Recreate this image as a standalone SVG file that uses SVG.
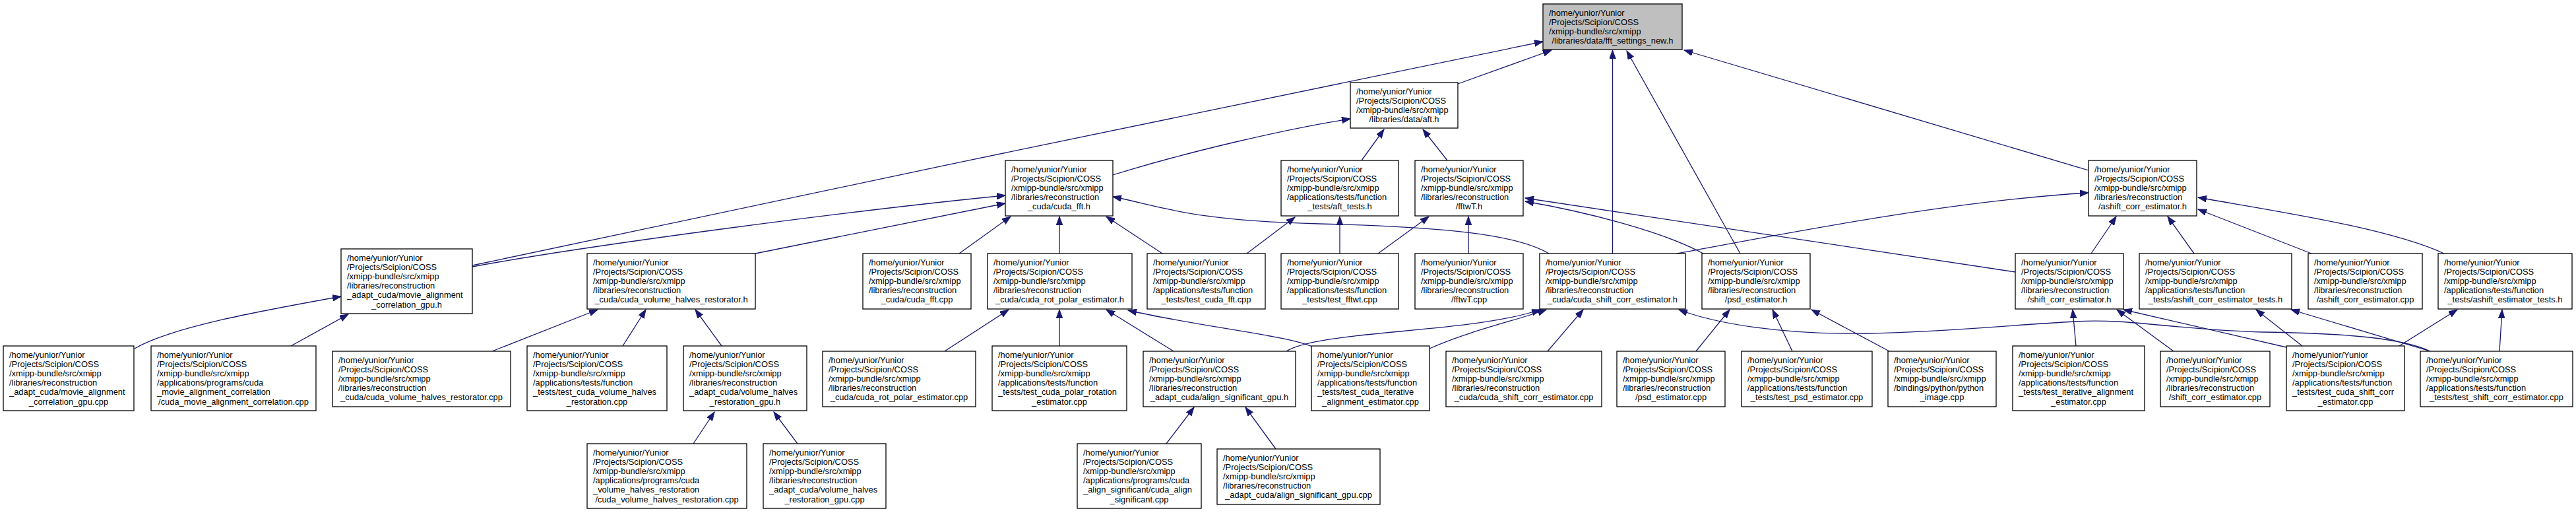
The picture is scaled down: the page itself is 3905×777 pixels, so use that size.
<svg xmlns="http://www.w3.org/2000/svg" width="3905" height="777" viewBox="0 0 3905 777">
<style>
.bg{fill:#fff}
.n rect{fill:#fff;stroke:#000;stroke-width:1.3}
.n.root rect{fill:#bfbfbf}
.t{font-family:"Liberation Sans",Arial,Helvetica,sans-serif;font-size:12.9px;fill:#000}
.c{text-anchor:middle}
.e path{fill:none;stroke:#191970;stroke-width:1.3;marker-end:url(#a)}
</style>
<defs>
<marker id="a" markerUnits="userSpaceOnUse" markerWidth="14" markerHeight="10" refX="13" refY="4.8" orient="auto">
<path d="M0,0 L13,4.8 L0,9.6 z" fill="#191970" stroke="#191970" stroke-width="1"/>
</marker>
</defs>
<rect class="bg" x="0" y="0" width="3905" height="777"/>
<g id="edges" class="e">
<path d="M716,402 C1200,300 1900,150 2339,63"/>
<path d="M716,404 C900,370 1300,318 1524,296"/>
<path d="M1145,384 L1524,308"/>
<path d="M1454,384 L1532,328"/>
<path d="M1606,384 L1606,328"/>
<path d="M1762,384 L1677,328"/>
<path d="M2348,384 C2300,356 2200,344 2000,339 S1760,312 1687,298"/>
<path d="M2210,127 L2352,76"/>
<path d="M1687,265 C1800,230 1950,195 2047,180"/>
<path d="M2064,243 L2098,196"/>
<path d="M2194,243 L2157,196"/>
<path d="M2444.5,384 L2444.5,76"/>
<path d="M2638,384 L2466,77"/>
<path d="M3166,258 L2553,76"/>
<path d="M2031,384 L2031,328"/>
<path d="M1890,384 L1963,329"/>
<path d="M2089,384 L2166,328"/>
<path d="M2226,384 L2226,328"/>
<path d="M3055,412 L2312,300"/>
<path d="M2582,384 C2520,350 2400,320 2312,305"/>
<path d="M2542,384 C2700,355 2950,305 3166,292"/>
<path d="M3170,384 L3208,328"/>
<path d="M3326,384 L3286,328"/>
<path d="M3504,384 L3332,317"/>
<path d="M3705,384 C3620,345 3450,320 3332,299"/>
<path d="M204,528 C260,495 400,470 517,449"/>
<path d="M441,524 L528,476"/>
<path d="M746,532 L906,469"/>
<path d="M944,524 L979,469"/>
<path d="M1094,524 L1054,469"/>
<path d="M1051,672 L1083,624"/>
<path d="M1209,672 L1173,624"/>
<path d="M1432,532 L1529,469"/>
<path d="M1606,524 L1606,469"/>
<path d="M1779,532 L1677,469"/>
<path d="M1989,525 C1950,508 1820,495 1710,470"/>
<path d="M1950,532 C2000,500 2230,505 2335,469"/>
<path d="M2167,528 C2230,500 2300,485 2344,469"/>
<path d="M2346,532 L2400,469"/>
<path d="M3684,532 C3640,512 3560,505 3430,503 C3300,500 3230,482 3146,487 C3050,492 2950,503 2829,505 C2700,507 2600,490 2545,469"/>
<path d="M2571,532 L2622,469"/>
<path d="M2717,532 L2687,469"/>
<path d="M2864,532 L2746,469"/>
<path d="M3147,524 L3142,469"/>
<path d="M3295,532 L3209,469"/>
<path d="M3466,526 L3219,469"/>
<path d="M3490,524 L3420,469"/>
<path d="M3684,532 L3473,469"/>
<path d="M3637,524 L3725,469"/>
<path d="M3789,532 L3793,469"/>
<path d="M1768,672 L1810,617"/>
<path d="M1934,680 L1888,617"/>
</g>
<g id="n0" class="n root"><rect x="2339" y="6" width="211" height="69"/><text class="t"><tspan x="2348" y="23.6">/home/yunior/Yunior</tspan><tspan x="2348" y="37.8">/Projects/Scipion/COSS</tspan><tspan x="2348" y="52">/xmipp-bundle/src/xmipp</tspan></text><text class="t c" x="2444.5" y="66.2">/libraries/data/fft_settings_new.h</text></g>
<g id="n1" class="n"><rect x="2047" y="125" width="163" height="69"/><text class="t"><tspan x="2056" y="142.6">/home/yunior/Yunior</tspan><tspan x="2056" y="156.8">/Projects/Scipion/COSS</tspan><tspan x="2056" y="171">/xmipp-bundle/src/xmipp</tspan></text><text class="t c" x="2128.5" y="185.2">/libraries/data/aft.h</text></g>
<g id="n2" class="n"><rect x="517" y="377" width="199" height="98"/><text class="t"><tspan x="526" y="394.6">/home/yunior/Yunior</tspan><tspan x="526" y="408.8">/Projects/Scipion/COSS</tspan><tspan x="526" y="423">/xmipp-bundle/src/xmipp</tspan><tspan x="526" y="437.2">/libraries/reconstruction</tspan><tspan x="526" y="451.4">_adapt_cuda/movie_alignment</tspan></text><text class="t c" x="616.5" y="465.6">_correlation_gpu.h</text></g>
<g id="n3" class="n"><rect x="1524" y="243" width="163" height="84"/><text class="t"><tspan x="1533" y="260.6">/home/yunior/Yunior</tspan><tspan x="1533" y="274.8">/Projects/Scipion/COSS</tspan><tspan x="1533" y="289">/xmipp-bundle/src/xmipp</tspan><tspan x="1533" y="303.2">/libraries/reconstruction</tspan></text><text class="t c" x="1605.5" y="317.4">_cuda/cuda_fft.h</text></g>
<g id="n4" class="n"><rect x="1942" y="243" width="178" height="84"/><text class="t"><tspan x="1951" y="260.6">/home/yunior/Yunior</tspan><tspan x="1951" y="274.8">/Projects/Scipion/COSS</tspan><tspan x="1951" y="289">/xmipp-bundle/src/xmipp</tspan><tspan x="1951" y="303.2">/applications/tests/function</tspan></text><text class="t c" x="2031" y="317.4">_tests/aft_tests.h</text></g>
<g id="n5" class="n"><rect x="2145" y="243" width="164" height="84"/><text class="t"><tspan x="2154" y="260.6">/home/yunior/Yunior</tspan><tspan x="2154" y="274.8">/Projects/Scipion/COSS</tspan><tspan x="2154" y="289">/xmipp-bundle/src/xmipp</tspan><tspan x="2154" y="303.2">/libraries/reconstruction</tspan></text><text class="t c" x="2227" y="317.4">/fftwT.h</text></g>
<g id="n6" class="n"><rect x="3166" y="243" width="164" height="84"/><text class="t"><tspan x="3175" y="260.6">/home/yunior/Yunior</tspan><tspan x="3175" y="274.8">/Projects/Scipion/COSS</tspan><tspan x="3175" y="289">/xmipp-bundle/src/xmipp</tspan><tspan x="3175" y="303.2">/libraries/reconstruction</tspan></text><text class="t c" x="3248" y="317.4">/ashift_corr_estimator.h</text></g>
<g id="n7" class="n"><rect x="890" y="384" width="255" height="84"/><text class="t"><tspan x="899" y="401.6">/home/yunior/Yunior</tspan><tspan x="899" y="415.8">/Projects/Scipion/COSS</tspan><tspan x="899" y="430">/xmipp-bundle/src/xmipp</tspan><tspan x="899" y="444.2">/libraries/reconstruction</tspan></text><text class="t c" x="1017.5" y="458.4">_cuda/cuda_volume_halves_restorator.h</text></g>
<g id="n8" class="n"><rect x="1308" y="384" width="164" height="84"/><text class="t"><tspan x="1317" y="401.6">/home/yunior/Yunior</tspan><tspan x="1317" y="415.8">/Projects/Scipion/COSS</tspan><tspan x="1317" y="430">/xmipp-bundle/src/xmipp</tspan><tspan x="1317" y="444.2">/libraries/reconstruction</tspan></text><text class="t c" x="1390" y="458.4">_cuda/cuda_fft.cpp</text></g>
<g id="n9" class="n"><rect x="1497" y="384" width="219" height="84"/><text class="t"><tspan x="1506" y="401.6">/home/yunior/Yunior</tspan><tspan x="1506" y="415.8">/Projects/Scipion/COSS</tspan><tspan x="1506" y="430">/xmipp-bundle/src/xmipp</tspan><tspan x="1506" y="444.2">/libraries/reconstruction</tspan></text><text class="t c" x="1606.5" y="458.4">_cuda/cuda_rot_polar_estimator.h</text></g>
<g id="n10" class="n"><rect x="1739" y="384" width="179" height="84"/><text class="t"><tspan x="1748" y="401.6">/home/yunior/Yunior</tspan><tspan x="1748" y="415.8">/Projects/Scipion/COSS</tspan><tspan x="1748" y="430">/xmipp-bundle/src/xmipp</tspan><tspan x="1748" y="444.2">/applications/tests/function</tspan></text><text class="t c" x="1828.5" y="458.4">_tests/test_cuda_fft.cpp</text></g>
<g id="n11" class="n"><rect x="1942" y="384" width="178" height="84"/><text class="t"><tspan x="1951" y="401.6">/home/yunior/Yunior</tspan><tspan x="1951" y="415.8">/Projects/Scipion/COSS</tspan><tspan x="1951" y="430">/xmipp-bundle/src/xmipp</tspan><tspan x="1951" y="444.2">/applications/tests/function</tspan></text><text class="t c" x="2031" y="458.4">_tests/test_fftwt.cpp</text></g>
<g id="n12" class="n"><rect x="2145" y="384" width="164" height="84"/><text class="t"><tspan x="2154" y="401.6">/home/yunior/Yunior</tspan><tspan x="2154" y="415.8">/Projects/Scipion/COSS</tspan><tspan x="2154" y="430">/xmipp-bundle/src/xmipp</tspan><tspan x="2154" y="444.2">/libraries/reconstruction</tspan></text><text class="t c" x="2227" y="458.4">/fftwT.cpp</text></g>
<g id="n13" class="n"><rect x="2334" y="384" width="221" height="84"/><text class="t"><tspan x="2343" y="401.6">/home/yunior/Yunior</tspan><tspan x="2343" y="415.8">/Projects/Scipion/COSS</tspan><tspan x="2343" y="430">/xmipp-bundle/src/xmipp</tspan><tspan x="2343" y="444.2">/libraries/reconstruction</tspan></text><text class="t c" x="2444.5" y="458.4">_cuda/cuda_shift_corr_estimator.h</text></g>
<g id="n14" class="n"><rect x="2580" y="384" width="164" height="84"/><text class="t"><tspan x="2589" y="401.6">/home/yunior/Yunior</tspan><tspan x="2589" y="415.8">/Projects/Scipion/COSS</tspan><tspan x="2589" y="430">/xmipp-bundle/src/xmipp</tspan><tspan x="2589" y="444.2">/libraries/reconstruction</tspan></text><text class="t c" x="2662" y="458.4">/psd_estimator.h</text></g>
<g id="n15" class="n"><rect x="3055" y="384" width="164" height="84"/><text class="t"><tspan x="3064" y="401.6">/home/yunior/Yunior</tspan><tspan x="3064" y="415.8">/Projects/Scipion/COSS</tspan><tspan x="3064" y="430">/xmipp-bundle/src/xmipp</tspan><tspan x="3064" y="444.2">/libraries/reconstruction</tspan></text><text class="t c" x="3137" y="458.4">/shift_corr_estimator.h</text></g>
<g id="n16" class="n"><rect x="3243" y="384" width="231" height="84"/><text class="t"><tspan x="3252" y="401.6">/home/yunior/Yunior</tspan><tspan x="3252" y="415.8">/Projects/Scipion/COSS</tspan><tspan x="3252" y="430">/xmipp-bundle/src/xmipp</tspan><tspan x="3252" y="444.2">/applications/tests/function</tspan></text><text class="t c" x="3358.5" y="458.4">_tests/ashift_corr_estimator_tests.h</text></g>
<g id="n17" class="n"><rect x="3499" y="384" width="173" height="84"/><text class="t"><tspan x="3508" y="401.6">/home/yunior/Yunior</tspan><tspan x="3508" y="415.8">/Projects/Scipion/COSS</tspan><tspan x="3508" y="430">/xmipp-bundle/src/xmipp</tspan><tspan x="3508" y="444.2">/libraries/reconstruction</tspan></text><text class="t c" x="3585.5" y="458.4">/ashift_corr_estimator.cpp</text></g>
<g id="n18" class="n"><rect x="3696" y="384" width="203" height="84"/><text class="t"><tspan x="3705" y="401.6">/home/yunior/Yunior</tspan><tspan x="3705" y="415.8">/Projects/Scipion/COSS</tspan><tspan x="3705" y="430">/xmipp-bundle/src/xmipp</tspan><tspan x="3705" y="444.2">/applications/tests/function</tspan></text><text class="t c" x="3797.5" y="458.4">_tests/ashift_estimator_tests.h</text></g>
<g id="n19" class="n"><rect x="5" y="524" width="198" height="98"/><text class="t"><tspan x="14" y="541.6">/home/yunior/Yunior</tspan><tspan x="14" y="555.8">/Projects/Scipion/COSS</tspan><tspan x="14" y="570">/xmipp-bundle/src/xmipp</tspan><tspan x="14" y="584.2">/libraries/reconstruction</tspan><tspan x="14" y="598.4">_adapt_cuda/movie_alignment</tspan></text><text class="t c" x="104" y="612.6">_correlation_gpu.cpp</text></g>
<g id="n20" class="n"><rect x="229" y="524" width="250" height="98"/><text class="t"><tspan x="238" y="541.6">/home/yunior/Yunior</tspan><tspan x="238" y="555.8">/Projects/Scipion/COSS</tspan><tspan x="238" y="570">/xmipp-bundle/src/xmipp</tspan><tspan x="238" y="584.2">/applications/programs/cuda</tspan><tspan x="238" y="598.4">_movie_alignment_correlation</tspan></text><text class="t c" x="354" y="612.6">/cuda_movie_alignment_correlation.cpp</text></g>
<g id="n21" class="n"><rect x="504" y="532" width="270" height="84"/><text class="t"><tspan x="513" y="549.6">/home/yunior/Yunior</tspan><tspan x="513" y="563.8">/Projects/Scipion/COSS</tspan><tspan x="513" y="578">/xmipp-bundle/src/xmipp</tspan><tspan x="513" y="592.2">/libraries/reconstruction</tspan></text><text class="t c" x="639" y="606.4">_cuda/cuda_volume_halves_restorator.cpp</text></g>
<g id="n22" class="n"><rect x="799" y="524" width="212" height="98"/><text class="t"><tspan x="808" y="541.6">/home/yunior/Yunior</tspan><tspan x="808" y="555.8">/Projects/Scipion/COSS</tspan><tspan x="808" y="570">/xmipp-bundle/src/xmipp</tspan><tspan x="808" y="584.2">/applications/tests/function</tspan><tspan x="808" y="598.4">_tests/test_cuda_volume_halves</tspan></text><text class="t c" x="905" y="612.6">_restoration.cpp</text></g>
<g id="n23" class="n"><rect x="1036" y="524" width="187" height="98"/><text class="t"><tspan x="1045" y="541.6">/home/yunior/Yunior</tspan><tspan x="1045" y="555.8">/Projects/Scipion/COSS</tspan><tspan x="1045" y="570">/xmipp-bundle/src/xmipp</tspan><tspan x="1045" y="584.2">/libraries/reconstruction</tspan><tspan x="1045" y="598.4">_adapt_cuda/volume_halves</tspan></text><text class="t c" x="1129.5" y="612.6">_restoration_gpu.h</text></g>
<g id="n24" class="n"><rect x="1247" y="532" width="232" height="84"/><text class="t"><tspan x="1256" y="549.6">/home/yunior/Yunior</tspan><tspan x="1256" y="563.8">/Projects/Scipion/COSS</tspan><tspan x="1256" y="578">/xmipp-bundle/src/xmipp</tspan><tspan x="1256" y="592.2">/libraries/reconstruction</tspan></text><text class="t c" x="1363" y="606.4">_cuda/cuda_rot_polar_estimator.cpp</text></g>
<g id="n25" class="n"><rect x="1504" y="524" width="204" height="98"/><text class="t"><tspan x="1513" y="541.6">/home/yunior/Yunior</tspan><tspan x="1513" y="555.8">/Projects/Scipion/COSS</tspan><tspan x="1513" y="570">/xmipp-bundle/src/xmipp</tspan><tspan x="1513" y="584.2">/applications/tests/function</tspan><tspan x="1513" y="598.4">_tests/test_cuda_polar_rotation</tspan></text><text class="t c" x="1606" y="612.6">_estimator.cpp</text></g>
<g id="n26" class="n"><rect x="1733" y="532" width="231" height="84"/><text class="t"><tspan x="1742" y="549.6">/home/yunior/Yunior</tspan><tspan x="1742" y="563.8">/Projects/Scipion/COSS</tspan><tspan x="1742" y="578">/xmipp-bundle/src/xmipp</tspan><tspan x="1742" y="592.2">/libraries/reconstruction</tspan></text><text class="t c" x="1848.5" y="606.4">_adapt_cuda/align_significant_gpu.h</text></g>
<g id="n27" class="n"><rect x="1988" y="524" width="179" height="98"/><text class="t"><tspan x="1997" y="541.6">/home/yunior/Yunior</tspan><tspan x="1997" y="555.8">/Projects/Scipion/COSS</tspan><tspan x="1997" y="570">/xmipp-bundle/src/xmipp</tspan><tspan x="1997" y="584.2">/applications/tests/function</tspan><tspan x="1997" y="598.4">_tests/test_cuda_iterative</tspan></text><text class="t c" x="2077.5" y="612.6">_alignment_estimator.cpp</text></g>
<g id="n28" class="n"><rect x="2192" y="532" width="236" height="84"/><text class="t"><tspan x="2201" y="549.6">/home/yunior/Yunior</tspan><tspan x="2201" y="563.8">/Projects/Scipion/COSS</tspan><tspan x="2201" y="578">/xmipp-bundle/src/xmipp</tspan><tspan x="2201" y="592.2">/libraries/reconstruction</tspan></text><text class="t c" x="2310" y="606.4">_cuda/cuda_shift_corr_estimator.cpp</text></g>
<g id="n29" class="n"><rect x="2451" y="532" width="164" height="84"/><text class="t"><tspan x="2460" y="549.6">/home/yunior/Yunior</tspan><tspan x="2460" y="563.8">/Projects/Scipion/COSS</tspan><tspan x="2460" y="578">/xmipp-bundle/src/xmipp</tspan><tspan x="2460" y="592.2">/libraries/reconstruction</tspan></text><text class="t c" x="2533" y="606.4">/psd_estimator.cpp</text></g>
<g id="n30" class="n"><rect x="2640" y="532" width="198" height="84"/><text class="t"><tspan x="2649" y="549.6">/home/yunior/Yunior</tspan><tspan x="2649" y="563.8">/Projects/Scipion/COSS</tspan><tspan x="2649" y="578">/xmipp-bundle/src/xmipp</tspan><tspan x="2649" y="592.2">/applications/tests/function</tspan></text><text class="t c" x="2739" y="606.4">_tests/test_psd_estimator.cpp</text></g>
<g id="n31" class="n"><rect x="2862" y="532" width="164" height="84"/><text class="t"><tspan x="2871" y="549.6">/home/yunior/Yunior</tspan><tspan x="2871" y="563.8">/Projects/Scipion/COSS</tspan><tspan x="2871" y="578">/xmipp-bundle/src/xmipp</tspan><tspan x="2871" y="592.2">/bindings/python/python</tspan></text><text class="t c" x="2944" y="606.4">_image.cpp</text></g>
<g id="n32" class="n"><rect x="3051" y="524" width="200" height="98"/><text class="t"><tspan x="3060" y="541.6">/home/yunior/Yunior</tspan><tspan x="3060" y="555.8">/Projects/Scipion/COSS</tspan><tspan x="3060" y="570">/xmipp-bundle/src/xmipp</tspan><tspan x="3060" y="584.2">/applications/tests/function</tspan><tspan x="3060" y="598.4">_tests/test_iterative_alignment</tspan></text><text class="t c" x="3151" y="612.6">_estimator.cpp</text></g>
<g id="n33" class="n"><rect x="3275" y="532" width="166" height="84"/><text class="t"><tspan x="3284" y="549.6">/home/yunior/Yunior</tspan><tspan x="3284" y="563.8">/Projects/Scipion/COSS</tspan><tspan x="3284" y="578">/xmipp-bundle/src/xmipp</tspan><tspan x="3284" y="592.2">/libraries/reconstruction</tspan></text><text class="t c" x="3358" y="606.4">/shift_corr_estimator.cpp</text></g>
<g id="n34" class="n"><rect x="3466" y="524" width="179" height="98"/><text class="t"><tspan x="3475" y="541.6">/home/yunior/Yunior</tspan><tspan x="3475" y="555.8">/Projects/Scipion/COSS</tspan><tspan x="3475" y="570">/xmipp-bundle/src/xmipp</tspan><tspan x="3475" y="584.2">/applications/tests/function</tspan><tspan x="3475" y="598.4">_tests/test_cuda_shift_corr</tspan></text><text class="t c" x="3555.5" y="612.6">_estimator.cpp</text></g>
<g id="n35" class="n"><rect x="3669" y="532" width="231" height="84"/><text class="t"><tspan x="3678" y="549.6">/home/yunior/Yunior</tspan><tspan x="3678" y="563.8">/Projects/Scipion/COSS</tspan><tspan x="3678" y="578">/xmipp-bundle/src/xmipp</tspan><tspan x="3678" y="592.2">/applications/tests/function</tspan></text><text class="t c" x="3784.5" y="606.4">_tests/test_shift_corr_estimator.cpp</text></g>
<g id="n36" class="n"><rect x="890" y="672" width="242" height="98"/><text class="t"><tspan x="899" y="689.6">/home/yunior/Yunior</tspan><tspan x="899" y="703.8">/Projects/Scipion/COSS</tspan><tspan x="899" y="718">/xmipp-bundle/src/xmipp</tspan><tspan x="899" y="732.2">/applications/programs/cuda</tspan><tspan x="899" y="746.4">_volume_halves_restoration</tspan></text><text class="t c" x="1011" y="760.6">/cuda_volume_halves_restoration.cpp</text></g>
<g id="n37" class="n"><rect x="1157" y="672" width="186" height="98"/><text class="t"><tspan x="1166" y="689.6">/home/yunior/Yunior</tspan><tspan x="1166" y="703.8">/Projects/Scipion/COSS</tspan><tspan x="1166" y="718">/xmipp-bundle/src/xmipp</tspan><tspan x="1166" y="732.2">/libraries/reconstruction</tspan><tspan x="1166" y="746.4">_adapt_cuda/volume_halves</tspan></text><text class="t c" x="1250" y="760.6">_restoration_gpu.cpp</text></g>
<g id="n38" class="n"><rect x="1633" y="672" width="188" height="98"/><text class="t"><tspan x="1642" y="689.6">/home/yunior/Yunior</tspan><tspan x="1642" y="703.8">/Projects/Scipion/COSS</tspan><tspan x="1642" y="718">/xmipp-bundle/src/xmipp</tspan><tspan x="1642" y="732.2">/applications/programs/cuda</tspan><tspan x="1642" y="746.4">_align_significant/cuda_align</tspan></text><text class="t c" x="1727" y="760.6">_significant.cpp</text></g>
<g id="n39" class="n"><rect x="1845" y="680" width="247" height="84"/><text class="t"><tspan x="1854" y="697.6">/home/yunior/Yunior</tspan><tspan x="1854" y="711.8">/Projects/Scipion/COSS</tspan><tspan x="1854" y="726">/xmipp-bundle/src/xmipp</tspan><tspan x="1854" y="740.2">/libraries/reconstruction</tspan></text><text class="t c" x="1968.5" y="754.4">_adapt_cuda/align_significant_gpu.cpp</text></g>
</svg>
